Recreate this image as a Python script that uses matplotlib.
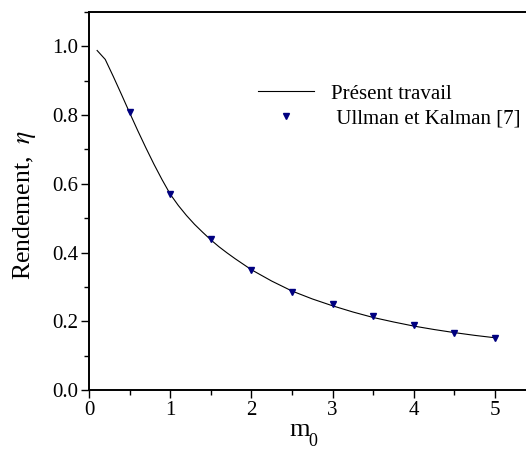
import matplotlib
matplotlib.use("Agg")
import matplotlib.pyplot as plt
from matplotlib.ticker import MultipleLocator

plt.rcParams['font.family'] = ['Liberation Serif', 'DejaVu Serif']
plt.rcParams['mathtext.fontset'] = 'stix'

# Present work curve
m_line = [0.1, 0.2, 0.3, 0.4, 0.5, 0.6, 0.7, 0.8, 0.9, 1.0, 1.1, 1.2, 1.3, 1.4,
          1.5, 1.6, 1.7, 1.8, 1.9, 2.0, 2.25, 2.5, 2.75, 3.0, 3.25, 3.5, 3.75,
          4.0, 4.25, 4.5, 4.75, 5.0]
eta_line = [0.988, 0.962, 0.912, 0.860, 0.807, 0.755, 0.705, 0.657, 0.612, 0.570,
            0.537, 0.508, 0.482, 0.459, 0.437, 0.417, 0.399, 0.382, 0.366, 0.350,
            0.317, 0.288, 0.265, 0.245, 0.227, 0.211, 0.198, 0.186, 0.176, 0.167,
            0.159, 0.152]

# Ullman and Kalman [7]
m_pts = [0.5, 1.0, 1.5, 2.0, 2.5, 3.0, 3.5, 4.0, 4.5, 5.0]
eta_pts = [0.809, 0.570, 0.438, 0.349, 0.286, 0.250, 0.214, 0.189, 0.165, 0.150]

xticks = [0, 1, 2, 3, 4, 5]
yticks = [0.0, 0.2, 0.4, 0.6, 0.8, 1.0]

W, H = 526, 450
fig = plt.figure(figsize=(W / 100, H / 100), dpi=100)
x0, y0 = 89, 390
ppx = 81.2
ax = fig.add_axes([x0 / W, (H - y0) / H, 5.5 * ppx / W, (y0 - 12) / H])

ax.plot(m_line, eta_line, color='black', lw=0.8, label='Présent travail')
ax.plot(m_pts, eta_pts, linestyle='none', marker='v', markersize=4.5,
        color='#000080', label=' Ullman et Kalman [7]')

ax.set_xlim(0, 5.5)
ax.set_ylim(0, 1.1)
ax.set_xticks(xticks)
ax.set_yticks(yticks)
ax.set_yticklabels([f"{v:.1f}" for v in yticks])
ax.xaxis.set_minor_locator(MultipleLocator(0.5))
ax.yaxis.set_minor_locator(MultipleLocator(0.1))
ax.tick_params(which='major', direction='out', length=6, width=1.0,
               labelsize=15, pad=2, top=False, right=False)
ax.tick_params(which='minor', direction='out', length=3.5, width=1.0,
               top=False, right=False)
for s in ['left', 'bottom', 'top']:
    ax.spines[s].set_linewidth(1.4)
ax.spines['right'].set_visible(False)

fig.text(25 / W, 1 - 205 / H, r'Rendement,  $\mathit{\eta}$', rotation=90,
         ha='center', va='center', fontsize=18.5)
fig.text(300 / W, 1 - 430 / H, 'm', ha='center', va='center', fontsize=19)
fig.text(313 / W, 1 - 442 / H, '0', ha='center', va='center', fontsize=13)

ax.legend(loc='upper left', bbox_to_anchor=(258 / W, 1 - 84 / H),
          bbox_transform=fig.transFigure, frameon=False, fontsize=15,
          borderpad=0, borderaxespad=0, handlelength=2.7, handletextpad=0.8,
          labelspacing=0.25, markerscale=1.0)

fig.savefig('out.png', dpi=100)
